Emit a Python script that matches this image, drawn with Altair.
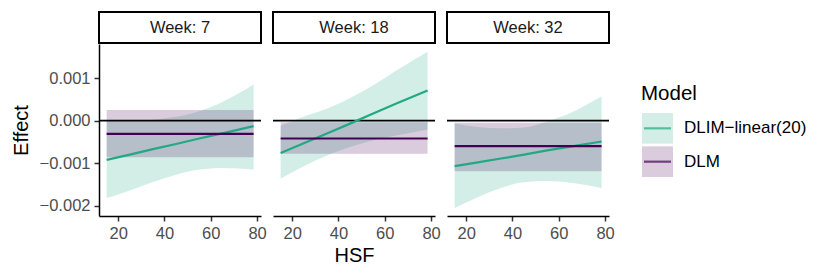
import altair as alt
import pandas as pd

# ---------------- data ----------------
HSF = [15, 25, 35, 45, 55, 65, 78.5]
WEEKS = [7, 18, 32]
MODELS = ["DLIM\u2212linear(20)", "DLM"]
COLORS = ["#22A884", "#440154"]

# DLIM-linear(20): estimate and band, per week
dlim_est_w7 = [-0.00092, -0.00080, -0.00067, -0.00055, -0.00042, -0.00030, -0.00013]
dlim_lo_w7 = [-0.00182, -0.00164, -0.00144, -0.00127, -0.00115, -0.00111, -0.00115]
dlim_hi_w7 = [0.00000, -0.00001, 0.00002, 0.00009, 0.00022, 0.00044, 0.00085]

dlim_est_w18 = [-0.00076, -0.00053, -0.00030, -0.00007, 0.00017, 0.00040, 0.00071]
dlim_lo_w18 = [-0.00136, -0.00107, -0.00082, -0.00062, -0.00046, -0.00035, -0.00021]
dlim_hi_w18 = [-0.00012, 0.00010, 0.00028, 0.00053, 0.00083, 0.00118, 0.00162]

dlim_est_w32 = [-0.00107, -0.00098, -0.00089, -0.00080, -0.00070, -0.00061, -0.00049]
dlim_lo_w32 = [-0.00205, -0.00180, -0.00158, -0.00145, -0.00142, -0.00146, -0.00158]
dlim_hi_w32 = [-0.00007, -0.00015, -0.00018, -0.00016, -0.00002, 0.00018, 0.00057]

# DLM: constant over HSF, per week
dlm_est = [-0.00031, -0.00042, -0.00060]
dlm_lo = [-0.00086, -0.00078, -0.00119]
dlm_hi = [0.00025, -0.00004, -0.00005]

Y_TICKS = [-0.002, -0.001, 0.0, 0.001]
X_TICKS = [20, 40, 60, 80]

dlim = {
    7: (dlim_est_w7, dlim_lo_w7, dlim_hi_w7),
    18: (dlim_est_w18, dlim_lo_w18, dlim_hi_w18),
    32: (dlim_est_w32, dlim_lo_w32, dlim_hi_w32),
}

rows = []
for i, w in enumerate(WEEKS):
    e, lo, hi = dlim[w]
    for j, h in enumerate(HSF):
        rows.append(dict(week=w, model=MODELS[0], hsf=h, est=e[j], lo=lo[j], hi=hi[j]))
    for h in HSF:
        rows.append(dict(week=w, model=MODELS[1], hsf=h, est=dlm_est[i], lo=dlm_lo[i], hi=dlm_hi[i]))
df = pd.DataFrame(rows)

W, H = 162, 172
FONT = "Liberation Sans"

color_scale = alt.Scale(domain=MODELS, range=COLORS)
x_scale = alt.Scale(domain=[11.7, 81.7], nice=False, zero=False)
y_scale = alt.Scale(domain=[-0.00224, 0.0018], nice=False, zero=False)


def panel(idx, week):
    d = df[df.week == week]
    if idx == 1:
        x_axis = alt.Axis(values=X_TICKS, title="HSF", titlePadding=4)
    else:
        x_axis = alt.Axis(values=X_TICKS, title=None)
    X = alt.X("hsf:Q", scale=x_scale, axis=x_axis)

    def Y(field):
        if idx == 0:
            return alt.Y(field, scale=y_scale,
                         axis=alt.Axis(values=Y_TICKS, format=".3f", title="Effect", titlePadding=8))
        return alt.Y(field, scale=y_scale, axis=None)

    strip_df = pd.DataFrame({"label": [f"Week: {week}"]})
    strip = alt.Chart(strip_df).mark_rect(fill="white", stroke="black", strokeWidth=2).encode(
        x=alt.value(0), x2=alt.value(W), y=alt.value(-32), y2=alt.value(-1)
    )
    strip_txt = alt.Chart(strip_df).mark_text(fontSize=16.5, font=FONT, color="#1a1a1a", baseline="middle").encode(
        x=alt.value(W / 2), y=alt.value(-16), text="label:N"
    )

    base = alt.Chart(d)
    area = base.mark_area(opacity=0.2, interpolate="monotone").encode(
        x=X, y=Y("lo:Q"), y2="hi:Q",
        fill=alt.Fill("model:N", scale=color_scale, legend=None),
    )
    zero_df = pd.DataFrame({"z": [0.0]})
    zero = alt.Chart(zero_df).mark_rule(color="black", strokeWidth=1.9).encode(
        y=Y("z:Q")
    )
    line = base.mark_line(strokeWidth=2.2).encode(
        x=X, y=Y("est:Q"),
        color=alt.Color("model:N", scale=color_scale, legend=None),
    )
    return alt.layer(area, zero, line, strip, strip_txt).properties(width=W, height=H)


panels = [panel(i, w) for i, w in enumerate(WEEKS)]

# manual legend
leg_df = pd.DataFrame({"model": MODELS})
leg_y = alt.Y("model:N", axis=None, scale=alt.Scale(domain=MODELS, paddingInner=0.08, paddingOuter=0))
OFF = 69
leg_key = alt.Chart(leg_df).mark_rect(opacity=0.2, yOffset=OFF, y2Offset=OFF).encode(
    x=alt.value(21), x2=alt.value(52), y=leg_y,
    fill=alt.Fill("model:N", scale=color_scale, legend=None),
)
leg_line = alt.Chart(leg_df).mark_tick(thickness=2.2, size=27, orient="horizontal", yOffset=OFF).encode(
    x=alt.value(36.5), y=leg_y,
    color=alt.Color("model:N", scale=color_scale, legend=None),
)
leg_txt = alt.Chart(leg_df).mark_text(align="left", baseline="middle", fontSize=17, font=FONT, color="black", yOffset=OFF).encode(
    x=alt.value(63), y=leg_y, text="model:N",
)
leg_title = alt.Chart(pd.DataFrame({"t": ["Model"]})).mark_text(align="left", baseline="middle", fontSize=20.5, font=FONT, color="black").encode(
    x=alt.value(20), y=alt.value(50), text="t:N"
)
legend = alt.layer(leg_key, leg_line, leg_txt, leg_title).properties(width=175, height=64)

chart = alt.hconcat(*panels, legend, spacing=12, bounds="flush").properties(
    padding={"left": 2, "top": 2, "right": 2, "bottom": 2}
).configure_view(stroke="transparent").configure_axis(
    grid=False,
    domainColor="black",
    domainWidth=1.5,
    tickColor="#333333",
    tickWidth=1.5,
    tickSize=5,
    labelColor="#4D4D4D",
    labelFontSize=16.5,
    labelFont=FONT,
    labelPadding=4,
    titleFont=FONT,
    titleFontSize=20,
    titleFontWeight="normal",
    titleColor="black",
)

chart.save("out.html", embed_options={"renderer": "svg", "actions": False})
